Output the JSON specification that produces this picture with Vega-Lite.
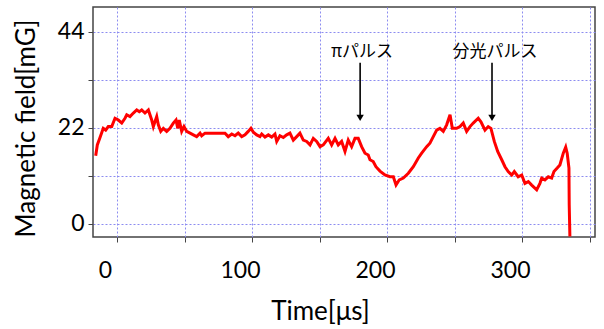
{
  "$schema": "https://vega.github.io/schema/vega-lite/v6.json",
  "width": 502,
  "height": 230,
  "autosize": "none",
  "padding": {"left": 93, "top": 7, "right": 9, "bottom": 92},
  "background": "white",
  "config": {
    "view": {"stroke": "#444444", "strokeWidth": 1.5},
    "font": "Lato"
  },
  "datasets": {
    "signal": [
      {"t": -6.9, "b": 15.6}, {"t": -5.7, "b": 18.1}, {"t": -3.7, "b": 19.8}, {"t": -1.3, "b": 21.9},
      {"t": 0.5, "b": 21.5}, {"t": 2.4, "b": 22.3}, {"t": 5.0, "b": 22.3}, {"t": 7.4, "b": 24.2},
      {"t": 9.9, "b": 23.8}, {"t": 12.4, "b": 23.1}, {"t": 14.8, "b": 24.2}, {"t": 16.1, "b": 25.0},
      {"t": 18.5, "b": 24.6}, {"t": 21.0, "b": 25.4}, {"t": 23.5, "b": 26.1}, {"t": 25.4, "b": 25.7},
      {"t": 27.2, "b": 26.1}, {"t": 29.6, "b": 25.4}, {"t": 32.1, "b": 26.1}, {"t": 34.6, "b": 23.8},
      {"t": 35.8, "b": 22.3}, {"t": 38.3, "b": 24.6}, {"t": 39.5, "b": 22.7}, {"t": 41.3, "b": 21.2},
      {"t": 43.2, "b": 21.9}, {"t": 45.7, "b": 21.2}, {"t": 48.1, "b": 21.9}, {"t": 50.6, "b": 23.1},
      {"t": 52.6, "b": 23.8}, {"t": 53.9, "b": 21.9}, {"t": 55.0, "b": 23.8}, {"t": 56.8, "b": 21.2},
      {"t": 58.5, "b": 22.3}, {"t": 60.5, "b": 21.2}, {"t": 63.0, "b": 20.8}, {"t": 65.4, "b": 20.4},
      {"t": 67.9, "b": 20.0}, {"t": 70.4, "b": 20.8}, {"t": 71.6, "b": 20.2}, {"t": 74.1, "b": 20.8},
      {"t": 88.9, "b": 20.8}, {"t": 91.3, "b": 20.0}, {"t": 93.9, "b": 20.6}, {"t": 96.3, "b": 20.2},
      {"t": 98.7, "b": 20.8}, {"t": 101.3, "b": 20.0}, {"t": 103.7, "b": 20.4}, {"t": 106.1, "b": 21.2},
      {"t": 108.1, "b": 21.9}, {"t": 109.9, "b": 21.0}, {"t": 112.4, "b": 20.4}, {"t": 114.8, "b": 20.0},
      {"t": 116.1, "b": 20.6}, {"t": 118.5, "b": 19.9}, {"t": 121.0, "b": 20.4}, {"t": 123.5, "b": 19.9},
      {"t": 125.9, "b": 20.6}, {"t": 127.2, "b": 18.9}, {"t": 129.6, "b": 20.2}, {"t": 132.1, "b": 19.8},
      {"t": 134.6, "b": 20.4}, {"t": 137.0, "b": 20.8}, {"t": 139.5, "b": 19.2}, {"t": 142.0, "b": 20.0},
      {"t": 144.4, "b": 20.8}, {"t": 146.9, "b": 19.2}, {"t": 149.4, "b": 18.9}, {"t": 151.9, "b": 18.1},
      {"t": 154.3, "b": 19.6}, {"t": 156.8, "b": 18.9}, {"t": 159.3, "b": 17.7}, {"t": 161.7, "b": 18.1},
      {"t": 165.4, "b": 19.6}, {"t": 167.9, "b": 18.1}, {"t": 170.4, "b": 19.6}, {"t": 172.8, "b": 18.1},
      {"t": 175.3, "b": 18.9}, {"t": 177.8, "b": 16.6}, {"t": 180.2, "b": 19.2}, {"t": 182.7, "b": 17.7},
      {"t": 185.2, "b": 19.6}, {"t": 187.6, "b": 19.6}, {"t": 190.1, "b": 17.7}, {"t": 192.6, "b": 16.2},
      {"t": 195.0, "b": 15.8}, {"t": 196.3, "b": 14.7}, {"t": 198.7, "b": 14.3}, {"t": 200.7, "b": 13.1},
      {"t": 203.7, "b": 12.1}, {"t": 207.4, "b": 11.2}, {"t": 211.1, "b": 10.8}, {"t": 213.6, "b": 10.8},
      {"t": 215.6, "b": 8.9}, {"t": 218.0, "b": 10.1}, {"t": 221.0, "b": 10.5}, {"t": 224.7, "b": 11.6},
      {"t": 228.4, "b": 13.1}, {"t": 232.1, "b": 15.1}, {"t": 234.6, "b": 16.2}, {"t": 238.3, "b": 17.7},
      {"t": 240.7, "b": 18.5}, {"t": 243.2, "b": 20.0}, {"t": 245.7, "b": 21.5}, {"t": 248.1, "b": 21.9},
      {"t": 250.6, "b": 21.2}, {"t": 253.1, "b": 22.7}, {"t": 255.6, "b": 25.0}, {"t": 257.3, "b": 21.9},
      {"t": 260.5, "b": 21.9}, {"t": 263.0, "b": 22.3}, {"t": 265.4, "b": 23.1}, {"t": 267.9, "b": 21.2},
      {"t": 270.4, "b": 22.3}, {"t": 272.8, "b": 23.1}, {"t": 276.5, "b": 24.2}, {"t": 278.5, "b": 23.4},
      {"t": 281.5, "b": 21.5}, {"t": 283.9, "b": 22.3}, {"t": 285.9, "b": 21.9}, {"t": 288.4, "b": 18.9},
      {"t": 290.9, "b": 16.6}, {"t": 293.9, "b": 14.7}, {"t": 296.3, "b": 13.1}, {"t": 298.7, "b": 12.0},
      {"t": 301.3, "b": 11.2}, {"t": 303.2, "b": 12.0}, {"t": 306.1, "b": 10.8}, {"t": 308.7, "b": 11.2},
      {"t": 311.1, "b": 9.3}, {"t": 313.6, "b": 9.7}, {"t": 316.1, "b": 8.9}, {"t": 319.8, "b": 7.8},
      {"t": 322.2, "b": 9.3}, {"t": 323.5, "b": 10.5}, {"t": 325.9, "b": 10.1}, {"t": 328.4, "b": 10.8},
      {"t": 330.9, "b": 10.5}, {"t": 332.6, "b": 12.0}, {"t": 335.0, "b": 12.8}, {"t": 337.0, "b": 13.5},
      {"t": 339.5, "b": 16.2}, {"t": 341.3, "b": 17.6}, {"t": 342.4, "b": 16.2}, {"t": 343.7, "b": 12.8},
      {"t": 343.9, "b": 4.4}, {"t": 344.4, "b": -2.9}
    ],
    "notes": [
      {"label": "πパルス", "t": 189, "tl": 190.4, "ytext": 39.4, "ytop": 36.9, "yend": 24.8, "yhead": 24.3},
      {"label": "分光パルス", "t": 286.7, "tl": 288.9, "ytext": 39.4, "ytop": 36.9, "yend": 24.8, "yhead": 24.3}
    ]
  },
  "resolve": {"axis": {"x": "independent", "y": "independent"}},
  "layer": [
    {
      "data": {"name": "signal"},
      "mark": {"type": "line", "color": "#ff0000", "strokeWidth": 3, "clip": true, "interpolate": "linear"},
      "encoding": {
        "x": {
          "field": "t", "type": "quantitative",
          "scale": {"domain": [-8.9, 363], "nice": false, "zero": false},
          "axis": {
            "orient": "bottom",
            "values": [9, 59, 109, 159, 209, 259, 309, 359],
            "grid": true, "gridColor": "#8c8cf0", "gridDash": [2, 2], "gridWidth": 1, "gridOpacity": 1,
            "labels": false, "ticks": true, "tickSize": 5, "tickColor": "#444444", "tickWidth": 1,
            "domain": false, "title": null
          }
        },
        "y": {
          "field": "b", "type": "quantitative",
          "scale": {"domain": [-3, 49.7], "nice": false, "zero": false},
          "axis": {
            "orient": "left",
            "values": [0, 11, 22, 33, 44],
            "grid": true, "gridColor": "#8c8cf0", "gridDash": [2, 2], "gridWidth": 1, "gridOpacity": 1,
            "labelExpr": "datum.value % 22 == 0 ? datum.label : ''",
            "labelFontSize": 23, "labelColor": "#000000", "labelPadding": 4, "labelFont": "Lato",
            "ticks": true, "tickSize": 5, "tickColor": "#444444",
            "domain": false,
            "title": "Magnetic field[mG]", "titleFontSize": 26, "titleFontWeight": "normal", "titleColor": "#000000",
            "titleFont": "Lato", "titleX": -67, "titleY": 121, "titleAngle": -90, "titleAlign": "center", "titleBaseline": "middle"
          }
        }
      }
    },
    {
      "data": {"name": "notes"},
      "mark": {"type": "rule", "color": "#000000", "strokeWidth": 1.6},
      "encoding": {
        "x": {
          "field": "t", "type": "quantitative",
          "axis": {
            "orient": "bottom",
            "values": [0, 100, 200, 300],
            "grid": false, "ticks": false, "domain": false,
            "labelFontSize": 23, "labelColor": "#000000", "labelPadding": 22, "labelFont": "Lato",
            "title": "Time[μs]", "titleFontSize": 26, "titleFontWeight": "normal", "titleColor": "#000000",
            "titleFont": "Lato", "titleX": 227, "titleY": 74, "titleAlign": "center", "titleBaseline": "middle"
          }
        },
        "y": {"field": "ytop", "type": "quantitative", "axis": null},
        "y2": {"field": "yend"}
      }
    },
    {
      "data": {"name": "notes"},
      "mark": {"type": "point", "shape": "triangle-down", "filled": true, "color": "#000000", "size": 55, "opacity": 1},
      "encoding": {
        "x": {"field": "t", "type": "quantitative", "axis": null},
        "y": {"field": "yhead", "type": "quantitative", "axis": null}
      }
    },
    {
      "data": {"name": "notes"},
      "mark": {"type": "text", "font": "Noto Sans CJK JP", "fontSize": 17, "color": "#000000", "align": "center", "baseline": "middle"},
      "encoding": {
        "x": {"field": "tl", "type": "quantitative", "axis": null},
        "y": {"field": "ytext", "type": "quantitative", "axis": null},
        "text": {"field": "label"}
      }
    }
  ]
}
